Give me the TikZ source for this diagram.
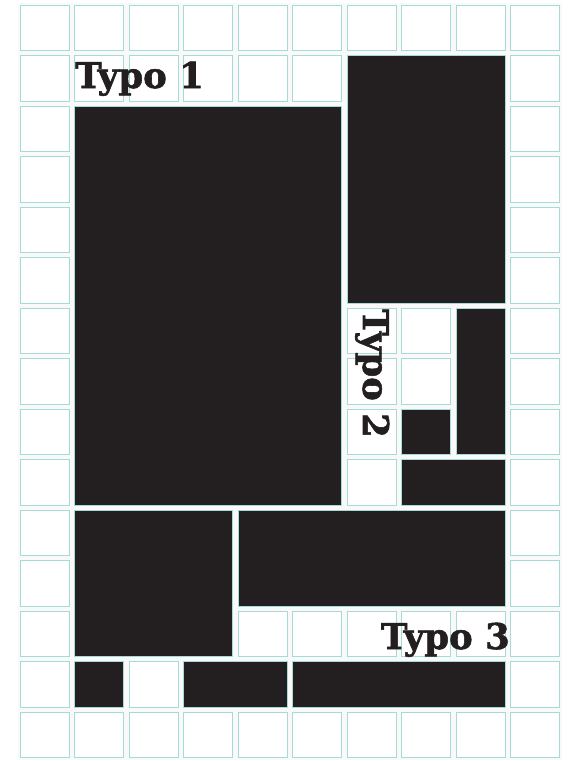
\documentclass[tikz,border=0pt]{standalone}
\usepackage{fontspec}
\newfontfamily\typofont{DejaVu Serif Bold}[FakeBold=1.6]
\definecolor{gridline}{RGB}{165,218,214}
\definecolor{ink}{RGB}{35,31,32}
\usetikzlibrary{positioning}

\begin{document}
\begin{tikzpicture}[
  x=1pt, y=-1pt,
  cell/.style={draw=gridline, line width=1pt, fill=white},
  blk/.style={draw=gridline, line width=0.6pt, fill=ink},
  typo/.style={text=ink, inner sep=0pt,
               font=\typofont\fontsize{35.5}{40}\selectfont}
]
\useasboundingbox (0,0) rectangle (582,761);

%% -- paper and grid -------------------------------------------------------
\fill[gray!5] (17.5,2.5) rectangle (561.5,759.5);
\foreach \c in {0,...,9}
  \foreach \r in {0,...,14}
    \draw[cell] ({20+54.5*\c},{5+50.5*\r}) rectangle ++(49,45.5);

%% -- blocks: first col / last col / first row / last row ------------------
\foreach \ca/\cb/\ra/\rb in {1/5/2/9, 6/8/1/5, 7/7/8/8, 8/8/6/8, 7/8/9/9,
                             1/3/10/12, 4/8/10/11, 1/1/13/13, 3/4/13/13,
                             5/8/13/13}
  \draw[blk] ({20+54.5*\ca},{5+50.5*\ra})
             rectangle ({69+54.5*\cb},{50.5+50.5*\rb});

%% -- labels ---------------------------------------------------------------
\node[typo, anchor=base west] (typoA) at (75,88) {Typo 1};
\node[typo, anchor=base west, rotate=-90] (typoB) at (363,309) {Typo 2};
\node[typo, anchor=base east] (typoC) at (510,649) {Typo 3};

\end{tikzpicture}
\end{document}
